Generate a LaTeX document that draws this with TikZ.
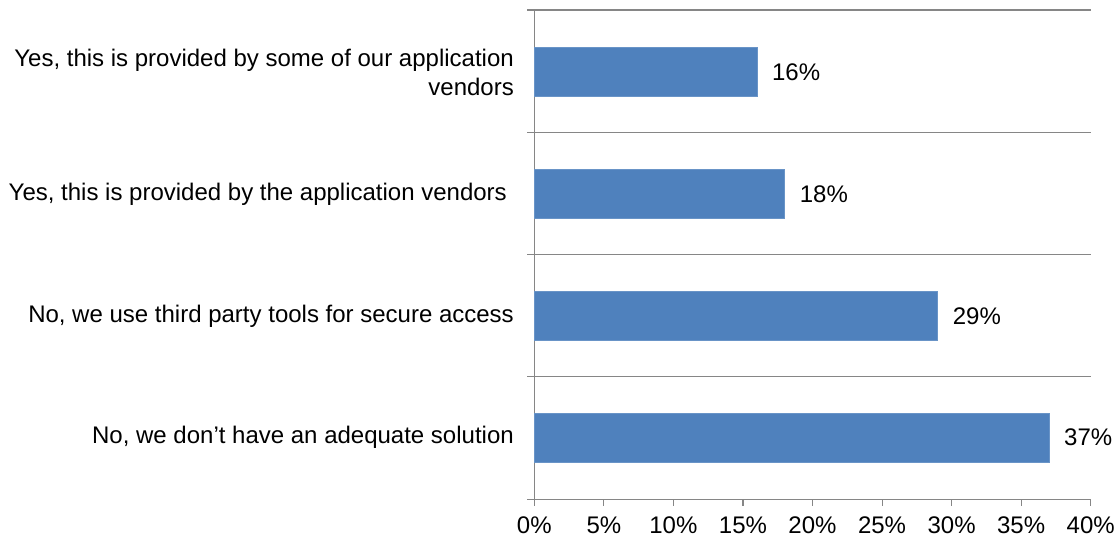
\documentclass[tikz,border=0pt]{standalone}
\usepackage{fontspec}
\setmainfont{Liberation Sans}

\definecolor{barblue}{HTML}{4F81BD}
\definecolor{axisgray}{HTML}{868686}

\tikzset{
  bar/.style={fill=barblue, draw=barblue!85!white, line width=0.6pt},
  axisline/.style={draw=axisgray, line width=1.1pt},
  catlabel/.style={anchor=east, align=right, inner sep=0pt,
    font=\fontsize{24}{29}\selectfont},
  vallabel/.style={anchor=west, inner sep=0pt,
    font=\fontsize{24}{29}\selectfont},
  ticklabel/.style={inner sep=0pt, font=\fontsize{24}{29}\selectfont}
}

\begin{document}
\begin{tikzpicture}[x=1pt, y=-1pt]
  \useasboundingbox (0,0) rectangle (1120,540);

  % value axis and category separators
  \draw[axisline] (534.3,10) -- (534.3,499.3);
  \foreach \y in {10, 132.3, 254.6, 376.9}
    \draw[axisline] (527,\y) -- (1090.7,\y);
  \draw[axisline] (527,499.3) -- (1090.7,499.3);

  % ticks and percent labels along the bottom
  \foreach \p in {0,5,...,40} {
    \draw[axisline] (534.3+\p*13.91,499.3) -- (534.3+\p*13.91,506);
    \node[ticklabel] (t\p) at (534.3+\p*13.91,525.5) {\p\%};
  }

  % bars, one per answer
  \foreach \v/\k in {16/0, 18/1, 29/2, 37/3} {
    \draw[bar] (534.3,47.7+\k*121.8) rectangle (534.3+\v*13.91,96.7+\k*121.8);
    \node[vallabel] (v\k) at (534.3+\v*13.91+15,72.2+\k*121.8) {\v\%};
  }

  % answer texts
  \node[catlabel] (c0) at (514,72.2) {Yes, this is provided by some of our application\\vendors};
  \node[catlabel] (c1) at (507,194) {Yes, this is provided by the application vendors};
  \node[catlabel] (c2) at (514,315.8) {No, we use third party tools for secure access};
  \node[catlabel] (c3) at (514,437.6) {No, we don’t have an adequate solution};
\end{tikzpicture}
\end{document}
